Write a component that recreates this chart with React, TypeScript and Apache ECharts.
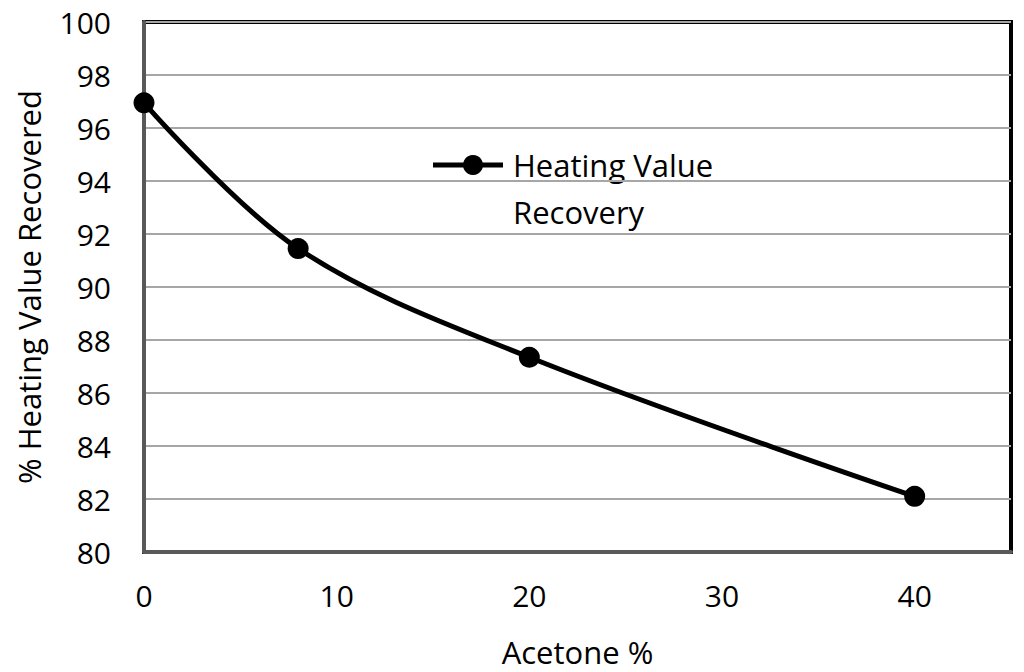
import React, { useEffect, useRef } from "react";
import * as echarts from "echarts";

const acetone = [0, 8, 20, 40];
const heatingValue = [96.95, 91.45, 87.35, 82.1];
const seriesName = "Heating Value Recovery";
const xTitle = "Acetone %";
const yTitle = "% Heating Value Recovered";

const FONT = "'Open Sans', sans-serif";

export default function App() {
  const ref = useRef<HTMLDivElement>(null);
  useEffect(() => {
    if (!ref.current) return;
    const chart = echarts.init(ref.current, null, { renderer: "svg" });
    chart.setOption({
      animation: false,
      backgroundColor: "#fff",
      textStyle: { fontFamily: FONT },
      grid: {
        left: 144,
        right: 13,
        top: 22,
        bottom: 119,
        show: true,
        borderColor: "#000",
        borderWidth: 4,
      },
      xAxis: {
        type: "value",
        min: 0,
        max: 45,
        interval: 10,
        name: xTitle,
        nameLocation: "middle",
        nameGap: 84,
        nameTextStyle: { fontSize: 31, color: "#000", fontFamily: FONT },
        axisLine: { show: true, onZero: false, lineStyle: { color: "#595959", width: 4 } },
        axisTick: { show: false },
        splitLine: { show: false },
        axisLabel: {
          fontSize: 30,
          color: "#000",
          fontFamily: FONT,
          margin: 28,
          formatter: (v: number) => (v % 10 === 0 ? String(v) : ""),
        },
      },
      yAxis: {
        type: "value",
        min: 80,
        max: 100,
        interval: 2,
        name: yTitle,
        nameLocation: "middle",
        nameGap: 100,
        nameTextStyle: { fontSize: 31, color: "#000", fontFamily: FONT },
        axisLine: { show: true, lineStyle: { color: "#595959", width: 4 } },
        axisTick: { show: false },
        splitLine: { show: true, lineStyle: { color: "#a6a6a6", width: 2 } },
        axisLabel: { fontSize: 30, color: "#000", fontFamily: FONT, margin: 33 },
      },
      series: [
        {
          name: seriesName,
          type: "line",
          smooth: 0.35,
          data: acetone.map((x, i) => [x, heatingValue[i]]),
          symbol: "circle",
          symbolSize: 21,
          itemStyle: { color: "#000" },
          lineStyle: { color: "#000", width: 5 },
        },
      ],
      graphic: [
        {
          type: "line",
          shape: { x1: 433, y1: 165, x2: 503, y2: 165 },
          style: { stroke: "#000", lineWidth: 5 },
        },
        {
          type: "circle",
          shape: { cx: 473, cy: 165, r: 10 },
          style: { fill: "#000" },
        },
        {
          type: "text",
          x: 513,
          y: 141,
          style: {
            text: "Heating Value\nRecovery",
            fontSize: 31,
            lineHeight: 47,
            fontFamily: FONT,
            fill: "#000",
            verticalAlign: "top",
            align: "left",
          },
        },
      ],
    });
    return () => chart.dispose();
  }, []);
  return (
    <div
      ref={ref}
      style={{ position: "absolute", left: 0, top: 0, width: 1024, height: 672 }}
    />
  );
}
